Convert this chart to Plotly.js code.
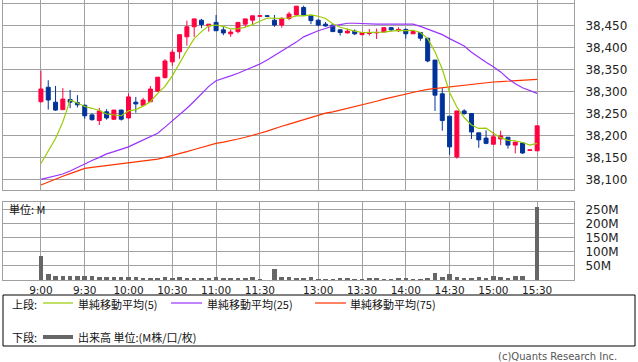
<!DOCTYPE html>
<html><head><meta charset="utf-8">
<script src="https://cdn.plot.ly/plotly-3.0.1.min.js"></script>
<style>html,body{margin:0;padding:0;background:#fff}#chart{width:638px;height:362px}</style>
</head><body><div id="chart"></div>
<script>
// x tick positions (bar index) and labels
const tickPos  = [0, 6, 12, 18, 24, 30, 38, 44, 50, 56, 62, 68];
const tickText = ['9:00','9:30','10:00','10:30','11:00','11:30','13:00','13:30','14:00','14:30','15:00','15:30'];

// 5-minute candles
const open  = [38277,38310,38276,38259,38282,38275,38269,38247,38234,38254,
               38237,38258,38240,38276,38269,38277,38301,38332,38368,38391,
               38425,38448,38463,38450,38458,38441,38432,38437,38454,38463,
               38472,38473,38463,38452,38467,38475,38492,38473,38463,38454,
               38452,38441,38434,38438,38430,38433,38434,38436,38446,38439,
               38442,38432,38435,38422,38372,38295,38244,38151,38256,38250,
               38206,38194,38180,38192,38196,38178,38183,38166,38165];
const high  = [38348,38326,38313,38308,38304,38292,38270,38250,38263,38260,
               38258,38259,38296,38288,38286,38313,38333,38374,38396,38430,
               38462,38466,38466,38454,38475,38448,38442,38458,38466,38473,
               38474,38474,38475,38470,38482,38495,38496,38473,38465,38459,
               38453,38442,38444,38442,38436,38443,38444,38446,38447,38447,
               38444,38437,38435,38422,38372,38308,38244,38256,38260,38250,
               38206,38212,38208,38211,38196,38185,38183,38167,38222];
const low   = [38275,38259,38256,38258,38262,38264,38238,38234,38224,38236,
               38236,38234,38238,38252,38269,38277,38299,38330,38359,38375,
               38405,38425,38445,38437,38439,38429,38425,38433,38448,38454,
               38472,38472,38448,38446,38463,38473,38473,38454,38449,38448,
               38436,38428,38433,38429,38429,38428,38420,38436,38438,38436,
               38421,38432,38416,38367,38256,38211,38156,38147,38247,38192,
               38172,38180,38180,38178,38170,38159,38158,38166,38165];
const close = [38306,38281,38258,38283,38276,38270,38245,38236,38256,38240,
               38258,38237,38288,38272,38281,38306,38333,38370,38390,38430,
               38448,38466,38453,38454,38439,38434,38436,38458,38466,38473,
               38473,38472,38452,38467,38477,38495,38475,38462,38452,38450,
               38437,38435,38438,38432,38435,38434,38435,38446,38441,38442,
               38432,38437,38422,38370,38292,38234,38174,38256,38250,38208,
               38190,38182,38197,38199,38178,38185,38160,38167,38222];

// moving averages
const sma5  = [38136,38163,38193,38231,38281,38274,38266,38262,38257,38249,
               38247,38245,38256,38259,38267,38277,38296,38312,38336,38366,
               38394,38421,38437,38450,38452,38449,38443,38444,38447,38453,
               38461,38468,38467,38467,38468,38473,38473,38475,38472,38467,
               38455,38447,38442,38438,38435,38435,38435,38436,38438,38440,
               38439,38440,38435,38421,38391,38351,38298,38265,38241,38224,
               38216,38217,38205,38195,38189,38188,38184,38178,38182];
const sma25 = [38100,38104,38108,38112,38119,38127,38136,38143,38150,38158,
               38163,38168,38174,38182,38190,38197,38205,38219,38233,38247,
               38262,38278,38295,38312,38325,38330,38336,38342,38349,38356,
               38363,38372,38382,38392,38402,38413,38425,38432,38439,38444,
               38450,38453,38456,38456,38455,38454,38454,38454,38454,38454,
               38454,38454,38449,38443,38437,38430,38421,38412,38404,38390,
               38378,38367,38357,38345,38330,38318,38309,38302,38296];
const sma75 = [38087,38094,38101,38107,38113,38119,38125,38127,38129,38131,
               38133,38136,38138,38140,38142,38144,38146,38150,38154,38158,
               38163,38168,38173,38178,38182,38185,38188,38192,38196,38200,
               38205,38210,38216,38221,38226,38231,38237,38242,38247,38251,
               38254,38258,38262,38265,38269,38273,38278,38283,38287,38291,
               38295,38299,38302,38305,38307,38309,38310,38312,38314,38316,
               38318,38320,38322,38323,38324,38325,38326,38327,38328];

// volume (millions)
const volume = [86,22,15,15,15,15,15,15,12,12,
                9,12,12,12,7,8,8,12,8,12,
                8,8,8,8,12,6,8,6,6,12,
                2,1,40,12,12,8,8,12,5,5,
                5,8,8,5,5,8,8,5,5,8,
                8,5,5,8,26,12,22,12,8,8,
                12,8,15,12,8,15,15,1,258];

const priceTicks = [38100,38150,38200,38250,38300,38350,38400,38450,38500];
const volTicks = [50,100,150,200,250];
const volTickText = ['50M','100M','150M','200M','250M'];

const legendTop = ['単純移動平均(5)','単純移動平均(25)','単純移動平均(75)'];
const legendBottom = '出来高 単位:(M株/口/枚)';

const xs = close.map((_, i) => i);
const RED = '#ff0040', BLUE = '#003399';
const C5 = '#99cc00', C25 = '#9933ff', C75 = '#ff3300';
const GRID = '#a0a0a0';

const traces = [
  {type:'candlestick', x:xs, open:open, high:high, low:low, close:close,
   xaxis:'x', yaxis:'y', showlegend:false, hoverinfo:'skip', whiskerwidth:0,
   increasing:{line:{color:RED,width:1}, fillcolor:RED},
   decreasing:{line:{color:BLUE,width:1}, fillcolor:BLUE}},
  {type:'scatter', mode:'lines', x:xs, y:sma75, xaxis:'x', yaxis:'y', line:{color:C75,width:1.2}, showlegend:false, hoverinfo:'skip'},
  {type:'scatter', mode:'lines', x:xs, y:sma25, xaxis:'x', yaxis:'y', line:{color:C25,width:1.2}, showlegend:false, hoverinfo:'skip'},
  {type:'scatter', mode:'lines', x:xs, y:sma5, xaxis:'x', yaxis:'y', line:{color:C5,width:1.2}, showlegend:false, hoverinfo:'skip'},
  {type:'bar', x:xs, y:volume, xaxis:'x2', yaxis:'y2', marker:{color:'#666666'}, width:0.62, showlegend:false, hoverinfo:'skip'}
];

// pixel -> paper helpers (plot area: x 3..574, y 0..280)
const L = 3, W = 571, H = 280;
const px = v => (v - L) / W;
const py = v => (H - v) / H;

const fontTick = {family:'DejaVu Sans, Verdana, sans-serif', size:12, color:'#222'};
const fontX = {family:'DejaVu Sans, Verdana, sans-serif', size:10.5, color:'#222'};
const fontJP = {family:'Noto Sans CJK JP, sans-serif', size:11, color:'#111'};

const xr = [-5.2, 73.05];
const layout = {
  width:638, height:362,
  margin:{l:3, r:64, t:0, b:82, pad:0},
  paper_bgcolor:'#fff', plot_bgcolor:'#fff',
  showlegend:false, hovermode:false, bargap:0, boxgap:0.22,
  xaxis:{domain:[0,1], range:xr, anchor:'y', tickvals:tickPos, ticktext:tickText, showticklabels:false,
         showgrid:true, gridcolor:GRID, gridwidth:1, zeroline:false, ticks:'',
         showline:true, mirror:true, linecolor:GRID, linewidth:1, rangeslider:{visible:false}, fixedrange:true},
  yaxis:{domain:[(H-190)/H, 1], range:[38075.6, 38509.1], side:'right', anchor:'x', tickvals:priceTicks,
         tickformat:',.0f', tickfont:fontTick, showgrid:true, gridcolor:GRID, gridwidth:1, zeroline:false,
         ticks:'outside', ticklen:8, tickcolor:'rgba(0,0,0,0)', showline:true, mirror:true, linecolor:GRID, linewidth:1},
  xaxis2:{domain:[0,1], range:xr, anchor:'y2', tickvals:tickPos, ticktext:tickText, tickfont:fontX,
          showgrid:true, gridcolor:GRID, gridwidth:1, zeroline:false, ticks:'',
          showline:true, mirror:true, linecolor:GRID, linewidth:1},
  yaxis2:{domain:[0, (H-201.7)/H], range:[0, 276.9], side:'right', anchor:'x2', tickvals:volTicks, ticktext:volTickText,
          tickfont:fontTick, showgrid:true, gridcolor:GRID, gridwidth:1, zeroline:false,
          ticks:'outside', ticklen:8, tickcolor:'rgba(0,0,0,0)', showline:true, mirror:true, linecolor:GRID, linewidth:1},
  shapes:[
    {type:'rect', xref:'paper', yref:'paper', x0:px(3), x1:px(635), y0:py(295), y1:py(346), line:{color:'#000',width:1}},
    {type:'line', xref:'paper', yref:'paper', x0:px(43), x1:px(73), y0:py(303), y1:py(303), line:{color:C5,width:1.2}},
    {type:'line', xref:'paper', yref:'paper', x0:px(171), x1:px(202), y0:py(303), y1:py(303), line:{color:C25,width:1.2}},
    {type:'line', xref:'paper', yref:'paper', x0:px(315), x1:px(346), y0:py(303), y1:py(303), line:{color:C75,width:1.2}},
    {type:'line', xref:'paper', yref:'paper', x0:px(43), x1:px(73), y0:py(337), y1:py(337), line:{color:'#666',width:4}}
  ],
  annotations:[
    {xref:'paper', yref:'paper', x:px(8), y:py(209), xanchor:'left', yanchor:'middle', text:'単位: M', showarrow:false, font:fontJP, borderpad:0},
    {xref:'paper', yref:'paper', x:px(11), y:py(303.5), xanchor:'left', yanchor:'middle', text:'上段:', showarrow:false, font:fontJP, borderpad:0},
    {xref:'paper', yref:'paper', x:px(77), y:py(303.5), xanchor:'left', yanchor:'middle', text:legendTop[0], showarrow:false, font:fontJP, borderpad:0},
    {xref:'paper', yref:'paper', x:px(206), y:py(303.5), xanchor:'left', yanchor:'middle', text:legendTop[1], showarrow:false, font:fontJP, borderpad:0},
    {xref:'paper', yref:'paper', x:px(349), y:py(303.5), xanchor:'left', yanchor:'middle', text:legendTop[2], showarrow:false, font:fontJP, borderpad:0},
    {xref:'paper', yref:'paper', x:px(11), y:py(337), xanchor:'left', yanchor:'middle', text:'下段:', showarrow:false, font:fontJP, borderpad:0},
    {xref:'paper', yref:'paper', x:px(77), y:py(337), xanchor:'left', yanchor:'middle', text:legendBottom, showarrow:false, font:fontJP, borderpad:0},
    {xref:'paper', yref:'paper', x:px(618), y:py(356), xanchor:'right', yanchor:'middle', text:'(c)Quants Research Inc.', showarrow:false,
     font:{family:'DejaVu Sans, sans-serif', size:10, color:'#555'}, borderpad:0}
  ]
};

Plotly.newPlot('chart', traces, layout, {staticPlot:true, displayModeBar:false});
</script>
</body></html>
